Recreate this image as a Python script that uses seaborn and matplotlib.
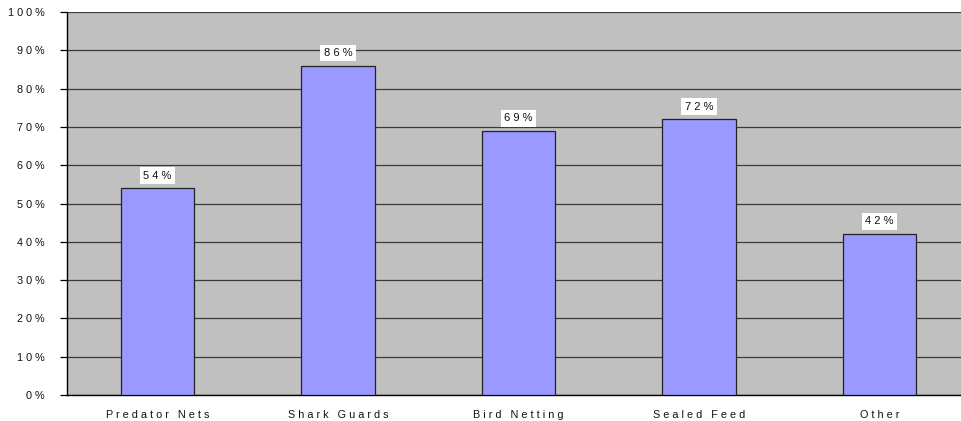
import matplotlib
matplotlib.use("Agg")
import matplotlib.pyplot as plt
import seaborn as sns
import pandas as pd
import numpy as np

categories = ["Predator Nets", "Shark Guards", "Bird Netting", "Sealed Feed", "Other"]
values = [54, 86, 69, 72, 42]
yticks = [0, 10, 20, 30, 40, 50, 60, 70, 80, 90, 100]

def spaced(s):
    return " ".join(list(s))

sns.set_theme(style="white")
plt.rcParams['font.family'] = ['Liberation Sans', 'DejaVu Sans']

df = pd.DataFrame({"cat": categories, "val": values})

fig = plt.figure(figsize=(9.61, 4.21), dpi=100)
# plot area runs past the right edge of the image (as in the reference)
ax = fig.add_axes([67.25/961, 26/421, 902.5/961, 383/421])
ax.set_facecolor("#C0C0C0")

sns.barplot(data=df, x="cat", y="val", ax=ax, color="#9999FF", width=0.405,
            edgecolor="#222222", linewidth=0.9, saturation=1, zorder=3)

ax.set_ylim(0, 100)
ax.set_xlim(-0.5, len(categories) - 0.5)
ax.set_yticks(yticks)
ax.set_yticklabels([spaced(f"{t}%") for t in yticks], fontsize=7.8, color="#111111")
ax.yaxis.grid(True, color="#3a3a3a", linewidth=0.9, zorder=0)
ax.set_axisbelow(True)

ax.set_xticks(np.arange(len(categories)))
ax.set_xticklabels([spaced(c) for c in categories], fontsize=7.8, color="#111111")
ax.tick_params(axis="x", length=0, pad=11)
ax.set_xticks(np.arange(len(categories) - 1) + 0.5, minor=True)
ax.tick_params(axis="x", which="minor", length=4, width=0.9, color="black", direction="out")
ax.tick_params(axis="y", length=5, width=0.9, color="black", direction="out", left=True, pad=11)

ax.set_xlabel("")
ax.set_ylabel("")

for s in ["top", "right"]:
    ax.spines[s].set_visible(False)
for s in ["left", "bottom"]:
    ax.spines[s].set_color("black")
    ax.spines[s].set_linewidth(1.0)

for i, v in enumerate(values):
    ax.text(i, v + 2.0, spaced(f"{v}%"), ha="center", va="bottom", fontsize=8,
            color="#111111", zorder=5,
            bbox=dict(facecolor="white", edgecolor="none", pad=2.5))

fig.savefig("out.png", dpi=100)
